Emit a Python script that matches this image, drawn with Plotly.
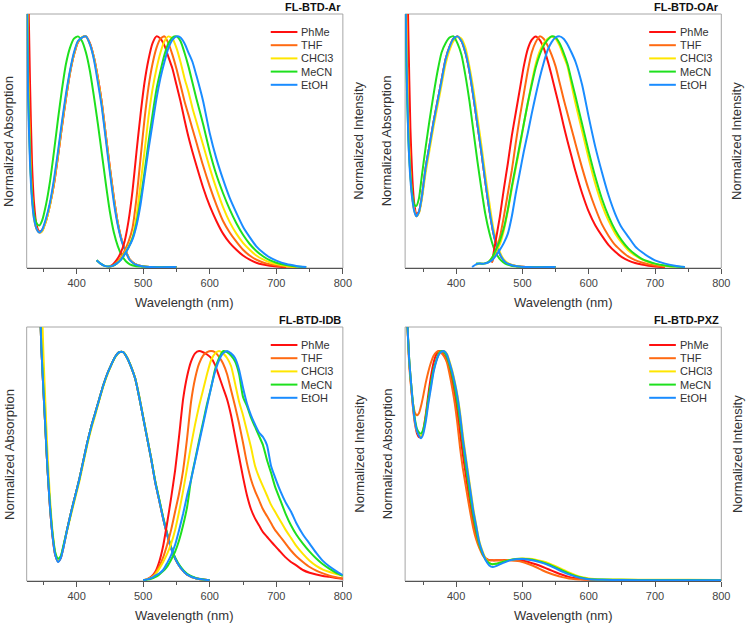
import plotly.graph_objects as go

SOLVENTS = ["PhMe", "THF", "CHCl3", "MeCN", "EtOH"]
COLORS = ["#ff1010", "#ff6a12", "#ffe600", "#1ee01e", "#1a8cff"]
TITLES = ["FL-BTD-Ar", "FL-BTD-OAr", "FL-BTD-IDB", "FL-BTD-PXZ"]
TICKS = [400, 500, 600, 700, 800]

# ---------------- FL-BTD-Ar ----------------
AR_ABS_WL = [325, 327, 330, 333, 336, 340, 344, 348, 354, 360, 366, 372, 378, 384, 390, 396, 402, 408, 414, 420,
             426, 432, 438, 444, 450, 456, 462, 468, 474, 480, 488, 498, 510, 550]
AR_ABS_PHME = [2.0, 1.3, 0.8, 0.45, 0.28, 0.18, 0.155, 0.16, 0.2, 0.27, 0.36, 0.48, 0.61, 0.73, 0.84, 0.92, 0.975, 0.995, 1.0, 0.97,
               0.91, 0.82, 0.71, 0.57, 0.43, 0.3, 0.19, 0.115, 0.068, 0.032, 0.013, 0.004, 0.0, 0.0]
AR_ABS_THF = [1.6, 0.95, 0.55, 0.33, 0.22, 0.165, 0.15, 0.155, 0.2, 0.27, 0.36, 0.48, 0.61, 0.73, 0.84, 0.92, 0.975, 0.995, 1.0, 0.97,
              0.91, 0.82, 0.71, 0.57, 0.43, 0.3, 0.19, 0.115, 0.068, 0.032, 0.013, 0.004, 0.0, 0.0]
AR_ABS_CHCL3 = [1.5, 0.85, 0.5, 0.31, 0.21, 0.165, 0.15, 0.155, 0.2, 0.27, 0.37, 0.49, 0.62, 0.74, 0.845, 0.925, 0.978, 0.997, 1.0, 0.965,
                0.905, 0.81, 0.7, 0.56, 0.42, 0.29, 0.185, 0.112, 0.066, 0.031, 0.012, 0.004, 0.0, 0.0]
AR_ABS_MECN = [1.3, 0.8, 0.48, 0.31, 0.23, 0.19, 0.18, 0.2, 0.27, 0.37, 0.5, 0.64, 0.77, 0.88, 0.95, 0.99, 1.0, 0.98, 0.93, 0.85,
               0.74, 0.62, 0.49, 0.36, 0.24, 0.15, 0.09, 0.05, 0.025, 0.012, 0.005, 0.002, 0.0, 0.0]
AR_ABS_ETOH = [1.3, 0.75, 0.45, 0.29, 0.21, 0.165, 0.15, 0.16, 0.21, 0.28, 0.38, 0.5, 0.63, 0.75, 0.85, 0.93, 0.98, 0.995, 1.0, 0.965,
               0.9, 0.8, 0.69, 0.55, 0.41, 0.28, 0.18, 0.11, 0.065, 0.03, 0.012, 0.004, 0.0, 0.0]

AR_EM_WL = [430, 436, 442, 448, 454, 460, 466, 472, 478, 484, 490, 496, 502, 508, 514, 520, 526, 532, 538, 544,
            550, 556, 562, 568, 574, 580, 590, 600, 610, 620, 630, 640, 650, 660, 670, 680, 690, 700, 715, 730, 745]
AR_EM_PHME = [None, None, None, 0.0, 0.01, 0.03, 0.06, 0.11, 0.2, 0.33, 0.5, 0.66, 0.8, 0.9, 0.97, 1.0, 0.99, 0.96, 0.91, 0.86,
              0.79, 0.72, 0.64, 0.565, 0.5, 0.44, 0.345, 0.265, 0.2, 0.145, 0.105, 0.075, 0.05, 0.032, 0.019, 0.011, 0.006, 0.003, 0.0, None, None]
AR_EM_THF = [None, None, None, 0.0, 0.005, 0.02, 0.04, 0.07, 0.11, 0.17, 0.3, 0.47, 0.64, 0.78, 0.88, 0.95, 0.99, 1.0, 0.97, 0.92,
             0.86, 0.79, 0.72, 0.66, 0.6, 0.54, 0.44, 0.35, 0.27, 0.2, 0.15, 0.11, 0.075, 0.05, 0.032, 0.02, 0.012, 0.007, 0.002, 0.0, None]
AR_EM_CHCL3 = [0.03, 0.015, 0.005, 0.002, 0.005, 0.015, 0.035, 0.06, 0.09, 0.13, 0.22, 0.36, 0.5, 0.65, 0.77, 0.86, 0.93, 0.98, 1.0, 0.99,
               0.95, 0.89, 0.82, 0.76, 0.69, 0.63, 0.53, 0.43, 0.34, 0.26, 0.195, 0.145, 0.105, 0.075, 0.05, 0.033, 0.021, 0.013, 0.005, 0.001, None]
AR_EM_MECN = [0.03, 0.015, 0.005, 0.002, 0.005, 0.015, 0.03, 0.055, 0.085, 0.125, 0.19, 0.29, 0.41, 0.54, 0.66, 0.77, 0.85, 0.92, 0.97, 0.995,
              1.0, 0.98, 0.93, 0.87, 0.8, 0.73, 0.62, 0.5, 0.4, 0.32, 0.25, 0.19, 0.14, 0.1, 0.07, 0.047, 0.03, 0.019, 0.009, 0.003, 0.0]
AR_EM_ETOH = [0.03, 0.015, 0.005, 0.002, 0.005, 0.015, 0.03, 0.055, 0.085, 0.12, 0.18, 0.27, 0.39, 0.51, 0.62, 0.73, 0.82, 0.89, 0.95, 0.985,
              1.0, 0.995, 0.97, 0.93, 0.89, 0.83, 0.72, 0.58, 0.47, 0.38, 0.3, 0.235, 0.175, 0.13, 0.09, 0.063, 0.042, 0.028, 0.013, 0.005, 0.0]

# ---------------- FL-BTD-OAr ----------------
OAR_ABS_WL = [323, 325, 328, 331, 334, 337, 340, 344, 348, 354, 360, 366, 372, 378, 384, 390, 396, 402, 408, 414,
              420, 426, 432, 438, 444, 450, 456, 462, 468, 474, 482, 492, 505, 550]
OAR_ABS_PHME = [2.0, 1.5, 1.0, 0.6, 0.38, 0.27, 0.23, 0.24, 0.3, 0.43, 0.53, 0.63, 0.72, 0.81, 0.9, 0.955, 0.99, 1.0, 0.98, 0.93,
                0.85, 0.74, 0.62, 0.5, 0.37, 0.25, 0.15, 0.085, 0.045, 0.022, 0.01, 0.004, 0.0, 0.0]
OAR_ABS_THF = [1.6, 1.1, 0.65, 0.42, 0.3, 0.245, 0.22, 0.24, 0.3, 0.43, 0.53, 0.63, 0.72, 0.81, 0.9, 0.955, 0.99, 1.0, 0.98, 0.93,
               0.85, 0.74, 0.62, 0.5, 0.37, 0.25, 0.15, 0.085, 0.045, 0.022, 0.01, 0.004, 0.0, 0.0]
OAR_ABS_CHCL3 = [1.4, 1.0, 0.6, 0.4, 0.3, 0.245, 0.22, 0.235, 0.29, 0.41, 0.51, 0.61, 0.7, 0.79, 0.88, 0.94, 0.98, 0.998, 0.99, 0.95,
                 0.87, 0.77, 0.65, 0.53, 0.4, 0.28, 0.17, 0.1, 0.052, 0.026, 0.011, 0.004, 0.0, 0.0]
OAR_ABS_MECN = [1.2, 0.85, 0.55, 0.4, 0.31, 0.27, 0.265, 0.3, 0.39, 0.52, 0.64, 0.75, 0.85, 0.93, 0.97, 0.995, 1.0, 0.97, 0.92, 0.83,
                0.72, 0.59, 0.46, 0.34, 0.23, 0.15, 0.09, 0.05, 0.028, 0.015, 0.007, 0.003, 0.0, 0.0]
OAR_ABS_ETOH = [1.3, 0.9, 0.55, 0.38, 0.29, 0.24, 0.22, 0.24, 0.3, 0.43, 0.53, 0.63, 0.72, 0.81, 0.9, 0.955, 0.99, 1.0, 0.98, 0.93,
                0.85, 0.74, 0.62, 0.5, 0.37, 0.25, 0.15, 0.085, 0.045, 0.022, 0.01, 0.004, 0.0, 0.0]

OAR_EM_WL = [424, 430, 436, 442, 448, 454, 460, 466, 472, 478, 484, 490, 496, 502, 508, 514, 520, 526, 532, 538,
             544, 550, 556, 562, 568, 574, 580, 590, 600, 610, 620, 630, 640, 650, 660, 670, 680, 690, 700, 715, 730, 745]
OAR_EM_PHME = [None, None, None, None, None, 0.02, 0.12, 0.22, 0.34, 0.45, 0.57, 0.67, 0.77, 0.87, 0.945, 0.985, 1.0, 0.985, 0.95, 0.895,
               0.83, 0.76, 0.69, 0.615, 0.545, 0.48, 0.415, 0.32, 0.24, 0.18, 0.135, 0.095, 0.066, 0.043, 0.028, 0.018, 0.011, 0.006, 0.003, 0.0, None, None]
OAR_EM_THF = [None, None, None, None, None, 0.02, 0.07, 0.13, 0.22, 0.32, 0.42, 0.54, 0.65, 0.75, 0.85, 0.93, 0.975, 1.0, 0.99, 0.96,
              0.92, 0.87, 0.8, 0.73, 0.665, 0.6, 0.535, 0.43, 0.335, 0.255, 0.185, 0.135, 0.095, 0.068, 0.045, 0.03, 0.02, 0.012, 0.007, 0.002, None, None]
OAR_EM_CHCL3 = [None, 0.01, 0.015, 0.015, 0.02, 0.04, 0.07, 0.1, 0.16, 0.245, 0.34, 0.43, 0.52, 0.62, 0.71, 0.8, 0.88, 0.935, 0.97, 0.99,
                1.0, 0.99, 0.96, 0.915, 0.87, 0.79, 0.71, 0.59, 0.47, 0.36, 0.27, 0.2, 0.145, 0.105, 0.072, 0.05, 0.033, 0.022, 0.014, 0.006, 0.002, None]
OAR_EM_MECN = [None, 0.015, 0.015, 0.015, 0.02, 0.04, 0.075, 0.115, 0.17, 0.25, 0.35, 0.44, 0.53, 0.62, 0.71, 0.79, 0.865, 0.92, 0.96, 0.985,
               1.0, 0.995, 0.97, 0.93, 0.88, 0.81, 0.74, 0.62, 0.5, 0.39, 0.295, 0.22, 0.16, 0.115, 0.08, 0.055, 0.036, 0.024, 0.015, 0.007, 0.002, 0.0]
OAR_EM_ETOH = [0.0, 0.012, 0.015, 0.015, 0.02, 0.03, 0.05, 0.075, 0.105, 0.145, 0.22, 0.32, 0.41, 0.5, 0.58, 0.665, 0.745, 0.82, 0.885, 0.94,
               0.975, 0.995, 1.0, 0.99, 0.965, 0.93, 0.89, 0.79, 0.65, 0.52, 0.41, 0.31, 0.23, 0.17, 0.13, 0.09, 0.065, 0.045, 0.029, 0.015, 0.006, 0.0]

# ---------------- FL-BTD-IDB ----------------
IDB_ABS_WL = [345, 347, 350, 353, 356, 360, 364, 368, 372, 376, 380, 386, 392, 398, 404, 410, 416, 422, 428, 434,
              440, 446, 452, 458, 464, 470, 476, 482, 488, 494, 500, 506, 512, 518, 524, 530, 536, 542, 548, 556,
              566, 580, 600]
IDB_ABS_PHME = [1.2, 1.02, 0.84, 0.67, 0.5, 0.32, 0.19, 0.11, 0.082, 0.097, 0.142, 0.225, 0.3, 0.37, 0.44, 0.52, 0.6, 0.67, 0.73, 0.79,
                0.85, 0.9, 0.94, 0.975, 0.995, 0.995, 0.97, 0.93, 0.88, 0.8, 0.71, 0.62, 0.53, 0.43, 0.35, 0.27, 0.2, 0.14, 0.095, 0.055,
                0.025, 0.008, 0.0]
IDB_ABS_THF = [1.2, 1.02, 0.84, 0.67, 0.5, 0.32, 0.19, 0.11, 0.082, 0.097, 0.142, 0.225, 0.3, 0.37, 0.44, 0.52, 0.6, 0.67, 0.73, 0.79,
               0.85, 0.9, 0.94, 0.975, 0.995, 0.995, 0.97, 0.93, 0.88, 0.8, 0.71, 0.62, 0.53, 0.43, 0.35, 0.27, 0.2, 0.14, 0.095, 0.055,
               0.025, 0.008, 0.0]
IDB_ABS_CHCL3 = [1.6, 1.3, 1.0, 0.78, 0.57, 0.36, 0.21, 0.12, 0.09, 0.1, 0.145, 0.22, 0.29, 0.36, 0.43, 0.51, 0.59, 0.66, 0.72, 0.785,
                 0.845, 0.895, 0.938, 0.972, 0.993, 0.996, 0.972, 0.932, 0.882, 0.805, 0.715, 0.625, 0.535, 0.435, 0.355, 0.275, 0.205, 0.145, 0.098, 0.057,
                 0.026, 0.008, 0.0]
IDB_ABS_MECN = [1.2, 1.02, 0.84, 0.67, 0.5, 0.33, 0.2, 0.12, 0.095, 0.105, 0.15, 0.225, 0.3, 0.37, 0.44, 0.52, 0.6, 0.67, 0.73, 0.79,
                0.85, 0.9, 0.94, 0.975, 0.995, 0.995, 0.97, 0.93, 0.88, 0.8, 0.71, 0.62, 0.53, 0.435, 0.355, 0.275, 0.205, 0.145, 0.1, 0.06,
                0.028, 0.009, 0.0]
IDB_ABS_ETOH = [1.2, 1.02, 0.84, 0.67, 0.5, 0.32, 0.19, 0.11, 0.08, 0.095, 0.14, 0.225, 0.3, 0.37, 0.44, 0.52, 0.6, 0.67, 0.73, 0.79,
                0.85, 0.9, 0.94, 0.975, 0.995, 0.995, 0.97, 0.93, 0.88, 0.8, 0.71, 0.62, 0.53, 0.43, 0.35, 0.27, 0.2, 0.14, 0.095, 0.055,
                0.025, 0.008, 0.0]

IDB_EM_WL = [500, 506, 512, 518, 524, 530, 536, 542, 548, 554, 560, 566, 572, 578, 584, 590, 596, 602, 608, 614,
             620, 626, 632, 638, 644, 650, 656, 662, 668, 674, 680, 686, 692, 698, 706, 714, 722, 730, 740, 750,
             760, 770, 780, 790, 800]
IDB_EM_PHME = [0.0, 0.005, 0.015, 0.036, 0.08, 0.15, 0.25, 0.36, 0.48, 0.63, 0.79, 0.89, 0.955, 0.99, 1.0, 0.995, 0.985, 0.97, 0.94, 0.89,
               0.84, 0.79, 0.72, 0.63, 0.54, 0.45, 0.37, 0.31, 0.27, 0.24, 0.21, 0.19, 0.17, 0.15, 0.125, 0.1, 0.08, 0.065, 0.045, 0.033,
               0.025, 0.019, 0.015, 0.01, 0.007]
IDB_EM_THF = [0.0, 0.005, 0.012, 0.03, 0.06, 0.1, 0.155, 0.22, 0.3, 0.38, 0.48, 0.62, 0.78, 0.88, 0.945, 0.98, 0.995, 1.0, 0.995, 0.975,
              0.946, 0.9, 0.83, 0.76, 0.685, 0.6, 0.51, 0.44, 0.39, 0.35, 0.31, 0.28, 0.25, 0.22, 0.19, 0.16, 0.13, 0.105, 0.08, 0.058,
              0.042, 0.03, 0.02, 0.013, 0.008]
IDB_EM_CHCL3 = [0.0, 0.005, 0.012, 0.025, 0.05, 0.08, 0.115, 0.16, 0.22, 0.3, 0.39, 0.49, 0.59, 0.68, 0.76, 0.83, 0.9, 0.96, 0.99, 1.0,
                0.99, 0.97, 0.935, 0.86, 0.78, 0.72, 0.65, 0.58, 0.5, 0.45, 0.41, 0.37, 0.33, 0.3, 0.26, 0.22, 0.185, 0.15, 0.115, 0.085,
                0.063, 0.047, 0.036, 0.027, 0.02]
IDB_EM_MECN = [0.0, 0.003, 0.007, 0.014, 0.025, 0.04, 0.06, 0.09, 0.125, 0.175, 0.24, 0.32, 0.44, 0.525, 0.61, 0.69, 0.77, 0.84, 0.92, 0.97,
               1.0, 0.995, 0.98, 0.955, 0.9, 0.8, 0.76, 0.71, 0.67, 0.63, 0.59, 0.525, 0.47, 0.41, 0.35, 0.29, 0.24, 0.2, 0.16, 0.125,
               0.095, 0.07, 0.05, 0.033, 0.02]
IDB_EM_ETOH = [0.0, 0.004, 0.01, 0.02, 0.03, 0.045, 0.075, 0.11, 0.155, 0.22, 0.29, 0.37, 0.44, 0.52, 0.6, 0.68, 0.76, 0.84, 0.91, 0.96,
               0.99, 1.0, 0.99, 0.97, 0.92, 0.84, 0.77, 0.72, 0.68, 0.645, 0.625, 0.59, 0.5, 0.45, 0.39, 0.34, 0.3, 0.25, 0.2, 0.16,
               0.12, 0.085, 0.06, 0.04, 0.022]

# ---------------- FL-BTD-PXZ ----------------
PXZ_ABS_WL = [323, 326, 329, 332, 335, 338, 341, 344, 347, 350, 354, 358, 362, 366, 370, 374, 378, 382, 386, 390,
              394, 398, 402, 406, 410, 414, 418, 422, 426, 430, 435, 440, 445, 450, 455, 460, 470, 480, 490, 500,
              510, 520, 530, 540, 550, 560, 570, 580, 590, 600, 620, 650, 700, 750, 800]
PXZ_ABS_PHME = [1.5, 1.15, 0.96, 0.85, 0.75, 0.68, 0.64, 0.625, 0.625, 0.65, 0.72, 0.81, 0.89, 0.95, 0.985, 1.0, 0.995, 0.98, 0.96, 0.92,
                0.87, 0.81, 0.73, 0.64, 0.55, 0.47, 0.39, 0.32, 0.25, 0.2, 0.15, 0.115, 0.095, 0.088, 0.087, 0.087, 0.088, 0.089, 0.088, 0.085,
                0.079, 0.07, 0.059, 0.047, 0.035, 0.024, 0.015, 0.009, 0.005, 0.003, 0.001, 0.0, 0.0, 0.0, 0.0]
PXZ_ABS_THF = [1.5, 1.15, 0.95, 0.84, 0.77, 0.73, 0.72, 0.73, 0.76, 0.8, 0.86, 0.91, 0.95, 0.98, 0.995, 1.0, 0.99, 0.975, 0.95, 0.9,
               0.84, 0.77, 0.68, 0.575, 0.49, 0.42, 0.35, 0.285, 0.225, 0.18, 0.14, 0.11, 0.093, 0.088, 0.088, 0.088, 0.088, 0.088, 0.085, 0.08,
               0.07, 0.058, 0.044, 0.032, 0.022, 0.014, 0.008, 0.005, 0.003, 0.002, 0.001, 0.0, 0.0, 0.0, 0.0]
PXZ_ABS_CHCL3 = [1.5, 1.15, 0.97, 0.86, 0.76, 0.69, 0.65, 0.635, 0.63, 0.645, 0.7, 0.78, 0.85, 0.915, 0.958, 0.987, 0.999, 1.0, 0.988, 0.955,
                 0.915, 0.865, 0.805, 0.73, 0.635, 0.55, 0.47, 0.39, 0.31, 0.245, 0.17, 0.125, 0.092, 0.075, 0.07, 0.072, 0.08, 0.088, 0.093, 0.095,
                 0.094, 0.09, 0.083, 0.074, 0.062, 0.048, 0.034, 0.022, 0.013, 0.008, 0.004, 0.003, 0.002, 0.002, 0.001]
PXZ_ABS_MECN = [1.5, 1.15, 0.97, 0.86, 0.77, 0.7, 0.66, 0.645, 0.64, 0.655, 0.71, 0.79, 0.86, 0.92, 0.96, 0.99, 1.0, 0.995, 0.975, 0.94,
                0.895, 0.84, 0.77, 0.69, 0.6, 0.51, 0.43, 0.35, 0.28, 0.22, 0.155, 0.115, 0.088, 0.075, 0.07, 0.072, 0.08, 0.088, 0.093, 0.094,
                0.092, 0.087, 0.079, 0.069, 0.056, 0.043, 0.03, 0.019, 0.011, 0.006, 0.003, 0.002, 0.001, 0.001, 0.0]
PXZ_ABS_ETOH = [1.5, 1.15, 0.97, 0.86, 0.76, 0.69, 0.65, 0.63, 0.62, 0.635, 0.69, 0.77, 0.84, 0.91, 0.955, 0.985, 0.998, 1.0, 0.985, 0.95,
                0.91, 0.86, 0.8, 0.72, 0.62, 0.54, 0.46, 0.38, 0.3, 0.24, 0.165, 0.12, 0.085, 0.065, 0.058, 0.062, 0.075, 0.086, 0.092, 0.093,
                0.09, 0.084, 0.076, 0.065, 0.052, 0.038, 0.026, 0.016, 0.009, 0.005, 0.002, 0.001, 0.0, 0.0, 0.0]

PANELS = [
    (AR_ABS_WL, [AR_ABS_PHME, AR_ABS_THF, AR_ABS_CHCL3, AR_ABS_MECN, AR_ABS_ETOH],
     AR_EM_WL, [AR_EM_PHME, AR_EM_THF, AR_EM_CHCL3, AR_EM_MECN, AR_EM_ETOH]),
    (OAR_ABS_WL, [OAR_ABS_PHME, OAR_ABS_THF, OAR_ABS_CHCL3, OAR_ABS_MECN, OAR_ABS_ETOH],
     OAR_EM_WL, [OAR_EM_PHME, OAR_EM_THF, OAR_EM_CHCL3, OAR_EM_MECN, OAR_EM_ETOH]),
    (IDB_ABS_WL, [IDB_ABS_PHME, IDB_ABS_THF, IDB_ABS_CHCL3, IDB_ABS_MECN, IDB_ABS_ETOH],
     IDB_EM_WL, [IDB_EM_PHME, IDB_EM_THF, IDB_EM_CHCL3, IDB_EM_MECN, IDB_EM_ETOH]),
    (PXZ_ABS_WL, [PXZ_ABS_PHME, PXZ_ABS_THF, PXZ_ABS_CHCL3, PXZ_ABS_MECN, PXZ_ABS_ETOH],
     None, None),
]

# layout geometry in pixels: left, right, top, bottom, x-min, y-range
W, H = 756, 624
GEOM = [
    (27, 347, 14, 268, 325, [-0.004, 1.097]),
    (410, 730, 14, 268, 323, [-0.004, 1.097]),
    (27, 347, 327, 581, 325, [-0.003, 1.105]),
    (410, 730, 327, 581, 323, [-0.003, 1.105]),
]
FONT = "Arial, Liberation Sans, sans-serif"


def px(x):
    return x / W


def py(y):
    return 1 - y / H


fig = go.Figure()
layout = dict(
    width=W, height=H, margin=dict(l=0, r=0, t=0, b=0),
    paper_bgcolor="white", plot_bgcolor="white", showlegend=False,
    font=dict(family=FONT, color="#333333"),
)
shapes, annotations = [], []

for i, ((awl, aser, ewl, eser), (l, r, t, b, xmin, yr)) in enumerate(zip(PANELS, GEOM)):
    n = "" if i == 0 else str(i + 1)
    xa, ya = "x" + n, "y" + n
    for vals, c in zip(aser, COLORS):
        fig.add_trace(go.Scatter(x=awl, y=vals, mode="lines", xaxis=xa, yaxis=ya,
                                 line=dict(color=c, width=2, shape="spline", smoothing=0.6),
                                 connectgaps=False, hoverinfo="skip"))
    if ewl is not None:
        for vals, c in zip(eser, COLORS):
            fig.add_trace(go.Scatter(x=ewl, y=vals, mode="lines", xaxis=xa, yaxis=ya,
                                     line=dict(color=c, width=2, shape="spline", smoothing=0.6),
                                     connectgaps=False, hoverinfo="skip"))
    layout["xaxis" + n] = dict(
        domain=[px(l), px(r)], anchor=ya, range=[xmin, 800],
        tickvals=TICKS, ticks="outside", ticklen=5, tickwidth=1, tickcolor="#555555",
        minor=dict(ticks="outside", ticklen=3, tickwidth=1, tickcolor="#555555", dtick=50, tick0=0),
        showline=True, linecolor="#555555", linewidth=1.2, showgrid=False, zeroline=False,
        tickfont=dict(size=11, color="#444444", family=FONT),
    )
    layout["yaxis" + n] = dict(
        domain=[py(b), py(t)], anchor=xa, range=yr,
        showticklabels=False, ticks="", showgrid=False, zeroline=False, showline=False,
    )
    shapes.append(dict(type="rect", xref="paper", yref="paper", x0=px(l), x1=px(r), y0=py(b), y1=py(t),
                       line=dict(color="#a6a6a6", width=1), layer="below"))
    annotations.append(dict(text="<b>%s</b>" % TITLES[i], x=px(r), y=py(t - 7), xref="paper", yref="paper",
                            xanchor="right", yanchor="middle", showarrow=False,
                            font=dict(size=11, color="#111111", family=FONT)))
    annotations.append(dict(text="Wavelength (nm)", x=px((l + r) / 2), y=py(b + 34), xref="paper", yref="paper",
                            xanchor="center", yanchor="middle", showarrow=False,
                            font=dict(size=13, color="#333333", family=FONT)))
    annotations.append(dict(text="Normalized Absorption", x=px(l - 18), y=py((t + b) / 2), xref="paper", yref="paper",
                            xanchor="center", yanchor="middle", textangle=-90, showarrow=False,
                            font=dict(size=13, color="#333333", family=FONT)))
    annotations.append(dict(text="Normalized Intensity", x=px(r + 16), y=py((t + b) / 2), xref="paper", yref="paper",
                            xanchor="center", yanchor="middle", textangle=-90, showarrow=False,
                            font=dict(size=13, color="#333333", family=FONT)))
    for k, (s, c) in enumerate(zip(SOLVENTS, COLORS)):
        yy = t + 18 + 13.2 * k
        shapes.append(dict(type="line", xref="paper", yref="paper", x0=px(r - 73), x1=px(r - 46),
                           y0=py(yy), y1=py(yy), line=dict(color=c, width=2)))
        annotations.append(dict(text=s, x=px(r - 44), y=py(yy), xref="paper", yref="paper",
                                xanchor="left", yanchor="middle", showarrow=False,
                                font=dict(size=11, color="#333333", family=FONT)))

layout["shapes"] = shapes
layout["annotations"] = annotations
fig.update_layout(**layout)
fig.write_html("out.html")
